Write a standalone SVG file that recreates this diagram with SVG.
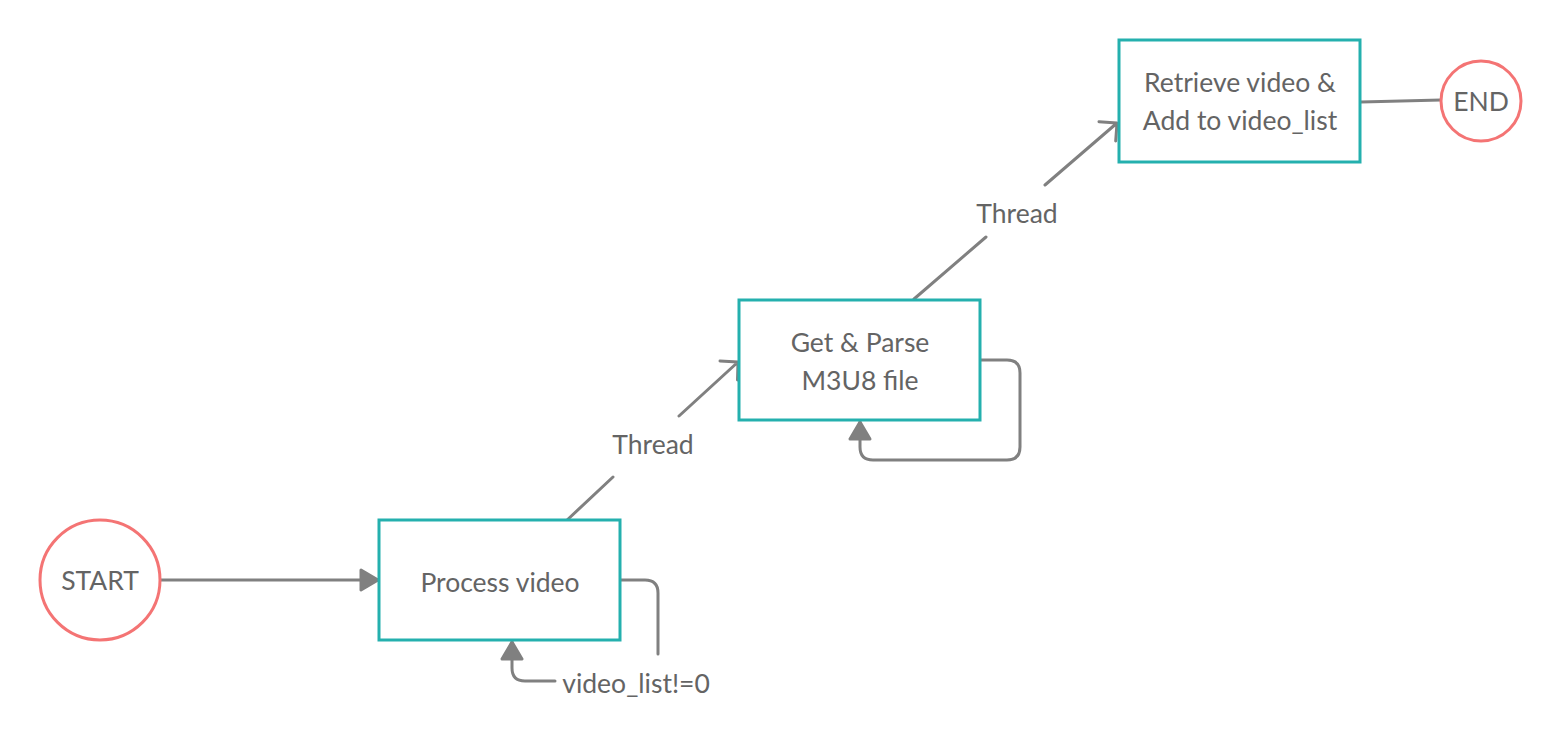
<svg xmlns="http://www.w3.org/2000/svg" width="1560" height="739" viewBox="0 0 1560 739">
<style>
.bg{fill:#ffffff}
.term{fill:#ffffff;stroke:#f47474;stroke-width:3}
.box{fill:#ffffff;stroke:#24b0ae;stroke-width:3}
.lbl{font-family:Lato,"Liberation Sans",sans-serif;font-size:26.5px;fill:#646464;text-anchor:middle}
.conn{fill:none;stroke:#808080;stroke-width:3;stroke-linecap:round;stroke-linejoin:round}
</style>
<defs>
<marker id="tri" markerUnits="userSpaceOnUse" markerWidth="26" markerHeight="28" refX="20" refY="12" orient="auto" viewBox="0 0 26 28">
<path d="M3,2 L20,12 L3,22 z" fill="#808080" stroke="#808080" stroke-width="3" stroke-linejoin="round"/>
</marker>
</defs>
<rect class="bg" x="0" y="0" width="1560" height="739"/>
<g id="connectors">
<path class="conn" d="M161,580 H378" marker-end="url(#tri)"/>
<path class="conn" d="M621,580 H645 Q658,580 658,593 V654"/>
<path class="conn" d="M555,681 H525 Q512,681 512,668 V642" marker-end="url(#tri)"/>
<path class="conn" d="M565,522 L613,477 M679,416 L738,362 M720,361 L738,362 L737.5,380"/>
<path class="conn" d="M981,360 H1007 Q1020,360 1020,373 V447 Q1020,460 1007,460 H873 Q860,460 860,447 V422" marker-end="url(#tri)"/>
<path class="conn" d="M914,299 L986,237 M1045,185 L1117,123 M1099,121.7 L1117,123 L1115.7,141"/>
<path class="conn" d="M1361,102 L1441,100"/>
<text class="lbl" x="653" y="454">Thread</text>
<text class="lbl" x="1017" y="223">Thread</text>
<text class="lbl" x="636" y="693">video_list!=0</text>
</g>
<g id="start">
<circle class="term" cx="100" cy="580" r="60"/>
<text class="lbl" x="100" y="590">START</text>
</g>
<g id="process-video">
<rect class="box" x="379" y="520" width="241" height="120"/>
<text class="lbl" x="500" y="592">Process video</text>
</g>
<g id="get-parse">
<rect class="box" x="739" y="300" width="241" height="120"/>
<text class="lbl" x="860" y="352">Get &amp; Parse</text>
<text class="lbl" x="860" y="390">M3U8 file</text>
</g>
<g id="retrieve">
<rect class="box" x="1119" y="40" width="241" height="122"/>
<text class="lbl" x="1240" y="92">Retrieve video &amp;</text>
<text class="lbl" x="1240" y="130">Add to video_list</text>
</g>
<g id="end">
<circle class="term" cx="1481" cy="101" r="40"/>
<text class="lbl" x="1481" y="111">END</text>
</g>
</svg>
